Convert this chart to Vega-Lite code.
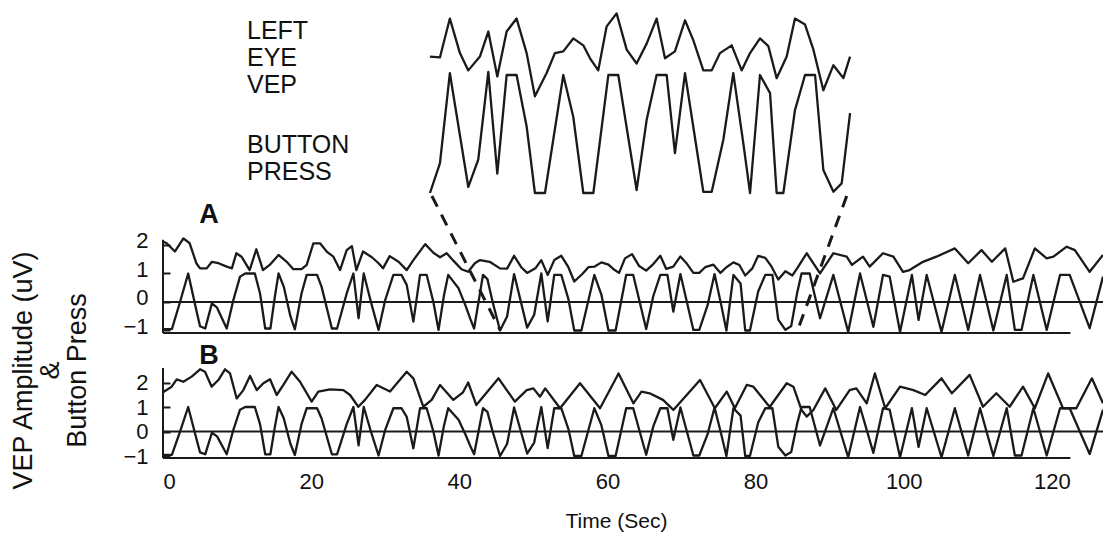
{
  "$schema": "https://vega.github.io/schema/vega-lite/v6.json",
  "width": 940,
  "height": 460,
  "autosize": {"type": "none"},
  "padding": {"left": 163, "top": 0, "right": 0, "bottom": 94},
  "background": "white",
  "config": {
    "view": {"stroke": null},
    "font": "Liberation Sans",
    "axis": {"grid": false, "labelColor": "#111", "titleColor": "#111", "labelFont": "Liberation Sans", "titleFont": "Liberation Sans"},
    "line": {"color": "#1a1a1a", "strokeWidth": 2.3, "strokeJoin": "round"},
    "rule": {"color": "#1a1a1a", "strokeWidth": 2}
  },
  "datasets": {
    "button": [
      {"t":0,"v":-0.95},{"t":1.2,"v":-0.95},{"t":2.3,"v":0.0},{"t":3.4,"v":1.0},{"t":4.6,"v":-0.4},{"t":5.0,"v":-0.85},{"t":5.7,"v":-0.93},{"t":6.6,"v":-0.05},{"t":7.3,"v":-0.2},{"t":8.6,"v":-0.93},{"t":9.5,"v":0.07},{"t":10.4,"v":0.89},{"t":11.1,"v":1.0},{"t":12.4,"v":1.0},{"t":13.1,"v":0.3},{"t":13.8,"v":-0.93},{"t":14.5,"v":-0.93},{"t":15.1,"v":0.19},{"t":15.6,"v":1.0},{"t":16.3,"v":0.54},{"t":17.2,"v":-0.5},{"t":17.8,"v":-0.96},{"t":18.7,"v":0.3},{"t":19.4,"v":0.95},{"t":20.8,"v":0.95},{"t":21.4,"v":0.54},{"t":22.8,"v":-0.93},{"t":23.5,"v":-0.93},{"t":24.8,"v":0.3},{"t":25.7,"v":1.0},{"t":26.4,"v":-0.57},{"t":27.1,"v":1.0},{"t":28.0,"v":0.07},{"t":29.1,"v":-0.98},{"t":30.0,"v":0.07},{"t":31.1,"v":0.95},{"t":32.2,"v":0.95},{"t":32.9,"v":0.6},{"t":33.8,"v":-0.69},{"t":34.7,"v":0.95},{"t":35.6,"v":0.95},{"t":36.5,"v":0.0},{"t":37.2,"v":-0.98},{"t":37.9,"v":0.19},{"t":38.5,"v":0.95},{"t":39.9,"v":0.48},{"t":40.8,"v":-0.1},{"t":41.5,"v":-0.6},{"t":42.0,"v":-0.93},{"t":43.2,"v":0.95},{"t":43.8,"v":0.8},{"t":44.5,"v":0.0},{"t":45.5,"v":-1.0},{"t":46.45,"v":-0.51},{"t":47.4,"v":0.98},{"t":49.16,"v":-0.9},{"t":50.11,"v":-0.45},{"t":51.07,"v":1.0},{"t":51.93,"v":-0.68},{"t":52.82,"v":0.95},{"t":53.77,"v":0.95},{"t":54.73,"v":0.1},{"t":55.52,"v":-1.0},{"t":56.48,"v":-1.0},{"t":58.23,"v":0.95},{"t":59.18,"v":0.26},{"t":60.14,"v":-1.0},{"t":61.1,"v":-1.0},{"t":62.53,"v":0.95},{"t":63.48,"v":0.95},{"t":65.23,"v":-0.95},{"t":66.19,"v":0.21},{"t":67.14,"v":0.95},{"t":68.1,"v":0.95},{"t":68.89,"v":-0.34},{"t":69.85,"v":0.98},{"t":71.6,"v":-0.98},{"t":72.4,"v":-0.98},{"t":73.51,"v":-0.12},{"t":74.46,"v":0.98},{"t":75.42,"v":-0.18},{"t":76.06,"v":-1.0},{"t":77.01,"v":0.95},{"t":77.97,"v":0.65},{"t":78.6,"v":-1.0},{"t":79.24,"v":-1.0},{"t":80.35,"v":0.37},{"t":81.31,"v":0.95},{"t":82.27,"v":0.95},{"t":83.06,"v":-0.62},{"t":84.02,"v":-0.98},{"t":84.81,"v":-0.84},{"t":85.61,"v":0.32},{"t":86.2,"v":1.0},{"t":87.3,"v":1.0},{"t":88.7,"v":-0.57},{"t":90.5,"v":0.95},{"t":92.5,"v":-1.05},{"t":94.1,"v":1.0},{"t":95.9,"v":-0.87},{"t":97.2,"v":0.95},{"t":98.1,"v":0.89},{"t":99.5,"v":-1.05},{"t":101.1,"v":0.95},{"t":102.0,"v":-0.63},{"t":103.1,"v":0.95},{"t":105.1,"v":-1.05},{"t":106.9,"v":0.95},{"t":108.7,"v":-0.98},{"t":110.3,"v":0.95},{"t":112.1,"v":-1.0},{"t":113.9,"v":0.95},{"t":115.0,"v":-0.98},{"t":115.9,"v":-0.98},{"t":117.5,"v":0.95},{"t":119.3,"v":-0.98},{"t":121.1,"v":0.95},{"t":122.4,"v":0.95},{"t":125.1,"v":-0.92},{"t":126.9,"v":0.89}
    ],
    "vepA": [
      {"t":0,"v":2.12},{"t":0.5,"v":2.06},{"t":1.6,"v":1.77},{"t":2.75,"v":2.23},{"t":3.6,"v":2.06},{"t":4.5,"v":1.36},{"t":5.0,"v":1.18},{"t":5.9,"v":1.18},{"t":6.6,"v":1.41},{"t":7.5,"v":1.36},{"t":8.6,"v":1.24},{"t":9.3,"v":1.18},{"t":9.9,"v":1.71},{"t":10.6,"v":1.59},{"t":11.7,"v":1.12},{"t":12.6,"v":1.85},{"t":13.5,"v":1.12},{"t":14.4,"v":1.3},{"t":15.6,"v":1.65},{"t":16.7,"v":1.41},{"t":17.6,"v":1.15},{"t":18.7,"v":1.15},{"t":19.4,"v":1.3},{"t":20.3,"v":2.06},{"t":21.2,"v":2.06},{"t":22.1,"v":1.77},{"t":23.0,"v":1.59},{"t":23.9,"v":1.12},{"t":24.8,"v":1.82},{"t":25.5,"v":1.96},{"t":26.1,"v":1.12},{"t":27.0,"v":1.77},{"t":28.2,"v":1.57},{"t":29.1,"v":1.36},{"t":29.7,"v":1.18},{"t":30.6,"v":1.61},{"t":31.8,"v":1.41},{"t":32.9,"v":1.12},{"t":33.8,"v":1.47},{"t":35.4,"v":2.03},{"t":36.5,"v":1.73},{"t":37.4,"v":1.57},{"t":38.3,"v":1.71},{"t":39.2,"v":1.45},{"t":40.3,"v":1.15},{"t":41.2,"v":1.06},{"t":42.1,"v":1.36},{"t":42.8,"v":1.47},{"t":44.1,"v":1.41},{"t":45.49,"v":1.18},{"t":46.45,"v":1.17},{"t":47.4,"v":1.62},{"t":48.36,"v":1.22},{"t":49.16,"v":1.02},{"t":50.27,"v":1.18},{"t":51.07,"v":1.47},{"t":51.93,"v":0.95},{"t":52.82,"v":1.47},{"t":53.77,"v":1.62},{"t":54.73,"v":1.22},{"t":55.52,"v":0.72},{"t":56.64,"v":0.99},{"t":57.43,"v":1.22},{"t":58.23,"v":1.24},{"t":59.18,"v":1.39},{"t":60.14,"v":1.31},{"t":60.78,"v":1.16},{"t":61.57,"v":1.02},{"t":62.37,"v":1.53},{"t":63.32,"v":1.68},{"t":64.28,"v":1.26},{"t":65.23,"v":1.1},{"t":66.19,"v":1.33},{"t":67.14,"v":1.62},{"t":67.94,"v":1.16},{"t":68.89,"v":1.24},{"t":69.85,"v":1.6},{"t":70.64,"v":1.37},{"t":71.6,"v":1.02},{"t":72.4,"v":1.02},{"t":73.19,"v":1.22},{"t":74.31,"v":1.31},{"t":75.26,"v":1.02},{"t":76.06,"v":1.22},{"t":77.01,"v":1.39},{"t":77.81,"v":1.3},{"t":78.6,"v":0.93},{"t":79.56,"v":1.18},{"t":80.35,"v":1.62},{"t":81.31,"v":1.55},{"t":82.11,"v":1.26},{"t":83.06,"v":0.79},{"t":84.02,"v":1.08},{"t":84.97,"v":0.93},{"t":85.61,"v":1.18},{"t":86.9,"v":1.71},{"t":88.7,"v":1.0},{"t":90.5,"v":1.71},{"t":92.3,"v":1.59},{"t":93.0,"v":1.3},{"t":94.5,"v":1.59},{"t":95.4,"v":1.24},{"t":97.2,"v":1.71},{"t":98.6,"v":1.59},{"t":99.9,"v":1.06},{"t":100.8,"v":1.12},{"t":102.6,"v":1.41},{"t":104.4,"v":1.59},{"t":106.9,"v":1.88},{"t":108.7,"v":1.36},{"t":110.5,"v":1.82},{"t":111.9,"v":1.41},{"t":113.7,"v":1.88},{"t":114.8,"v":0.71},{"t":116.1,"v":0.83},{"t":117.7,"v":1.88},{"t":119.3,"v":1.53},{"t":120.2,"v":1.59},{"t":122.0,"v":1.94},{"t":123.1,"v":1.82},{"t":125.1,"v":1.06},{"t":126.9,"v":1.65}
    ],
    "vepB": [
      {"t":0,"v":1.6},{"t":1.17,"v":1.83},{"t":1.85,"v":2.13},{"t":2.75,"v":2.03},{"t":3.87,"v":2.24},{"t":5.0,"v":2.54},{"t":5.67,"v":2.44},{"t":6.57,"v":1.83},{"t":7.47,"v":2.1},{"t":8.37,"v":2.54},{"t":9.05,"v":2.37},{"t":9.95,"v":1.35},{"t":10.85,"v":1.69},{"t":11.75,"v":2.27},{"t":12.65,"v":1.69},{"t":13.55,"v":1.97},{"t":14.45,"v":2.13},{"t":15.35,"v":1.49},{"t":16.25,"v":1.9},{"t":17.37,"v":2.44},{"t":18.5,"v":2.03},{"t":20.07,"v":1.22},{"t":20.97,"v":1.63},{"t":22.55,"v":1.72},{"t":24.35,"v":1.69},{"t":25.25,"v":1.49},{"t":26.37,"v":1.01},{"t":27.27,"v":1.29},{"t":28.85,"v":1.9},{"t":30.65,"v":1.63},{"t":32.9,"v":2.44},{"t":33.8,"v":2.17},{"t":35.15,"v":1.01},{"t":36.27,"v":1.29},{"t":37.4,"v":1.9},{"t":39.2,"v":1.29},{"t":40.5,"v":1.6},{"t":41.2,"v":2.0},{"t":42.3,"v":1.08},{"t":45.3,"v":2.17},{"t":47.5,"v":1.22},{"t":49.1,"v":1.69},{"t":50.0,"v":1.76},{"t":50.9,"v":1.42},{"t":51.6,"v":1.76},{"t":53.6,"v":0.95},{"t":56.3,"v":1.97},{"t":59.0,"v":0.95},{"t":61.5,"v":2.37},{"t":63.5,"v":1.15},{"t":64.6,"v":1.63},{"t":65.7,"v":1.56},{"t":67.5,"v":1.29},{"t":68.9,"v":0.88},{"t":72.5,"v":2.1},{"t":74.5,"v":0.95},{"t":76.1,"v":1.63},{"t":77.2,"v":0.95},{"t":78.8,"v":1.9},{"t":79.7,"v":1.83},{"t":81.9,"v":1.0},{"t":84.2,"v":1.97},{"t":85.1,"v":1.83},{"t":86.2,"v":0.88},{"t":86.9,"v":0.61},{"t":87.8,"v":0.88},{"t":89.4,"v":1.76},{"t":90.9,"v":0.88},{"t":92.7,"v":1.69},{"t":93.6,"v":1.76},{"t":95.0,"v":1.15},{"t":96.1,"v":2.37},{"t":97.5,"v":0.95},{"t":99.5,"v":1.83},{"t":101.3,"v":1.69},{"t":102.9,"v":1.49},{"t":105.1,"v":2.17},{"t":106.5,"v":1.56},{"t":108.9,"v":2.31},{"t":110.7,"v":1.01},{"t":112.5,"v":1.56},{"t":114.3,"v":1.01},{"t":116.1,"v":1.83},{"t":117.7,"v":0.95},{"t":119.5,"v":2.37},{"t":121.5,"v":0.95},{"t":123.3,"v":0.95},{"t":125.4,"v":2.17},{"t":126.9,"v":1.15}
    ],
    "connectors": [
      {"t": 36.3, "v": 3.72, "t2": 45.5, "v2": -0.98},
      {"t": 92.3, "v": 3.72, "t2": 85.6, "v2": -1.05}
    ]
  },
  "layer": [
    {
      "layer": [
        {
          "data": {"name": "vepA"},
          "mark": "line",
          "encoding": {
            "x": {"field": "t", "type": "quantitative", "scale": {"domain": [0, 126.9], "nice": false, "zero": false}, "axis": null},
            "y": {"field": "v", "type": "quantitative", "scale": {"domain": [-5.544, 10.596], "nice": false, "zero": false},
              "axis": {"orient": "left", "values": [-1, 0, 1, 2], "domain": false, "ticks": true, "tickSize": -7, "tickWidth": 2, "tickColor": "#1a1a1a", "labelFontSize": 22, "labelPadding": 22, "labelOffset": -4,
                "title": ["VEP Amplitude (uV)", "&", "Button Press"], "titleFontSize": 27, "titleFontWeight": "normal", "titleLineHeight": 27, "titleAngle": 270, "titleAlign": "center", "titleBaseline": "alphabetic", "titleX": -132, "titleY": 370}}
          }
        },
        {
          "data": {"name": "button"},
          "mark": "line",
          "encoding": {
            "x": {"field": "t", "type": "quantitative"},
            "y": {"field": "v", "type": "quantitative"}
          }
        },
        {
          "data": {"values": [{}]},
          "mark": "rule",
          "encoding": {"y": {"datum": 0}}
        },
        {
          "data": {"values": [{}]},
          "mark": "rule",
          "encoding": {"x": {"datum": 0}, "x2": {"datum": 122.5}, "y": {"datum": -1.09}}
        },
        {
          "data": {"values": [{}]},
          "mark": "rule",
          "encoding": {"x": {"datum": 0}, "y": {"datum": 2.18}, "y2": {"datum": -1.09}}
        },
        {
          "data": {"name": "connectors"},
          "mark": {"type": "rule", "strokeDash": [12, 9], "strokeWidth": 3},
          "encoding": {
            "x": {"field": "t", "type": "quantitative"},
            "x2": {"field": "t2"},
            "y": {"field": "v", "type": "quantitative"},
            "y2": {"field": "v2"}
          }
        },
        {
          "data": {"values": [{}]},
          "mark": {"type": "text", "text": "A", "fontSize": 27, "fontWeight": "bold", "align": "center", "baseline": "middle", "color": "#111"},
          "encoding": {"x": {"datum": 6.2}, "y": {"datum": 3.05}}
        }
      ]
    },
    {
      "layer": [
        {
          "data": {"name": "vepB"},
          "mark": "line",
          "encoding": {
            "x": {"field": "t", "type": "quantitative", "scale": {"domain": [0, 126.9], "nice": false, "zero": false},
              "axis": {"orient": "bottom", "values": [0, 20, 40, 60, 80, 100, 120], "domain": false, "ticks": false, "labelFontSize": 22, "labelPadding": 11,
                "title": "Time (Sec)", "titleFontSize": 21, "titleFontWeight": "normal", "titleX": 453, "titleY": 67, "titleBaseline": "alphabetic", "titleAlign": "center"}},
            "y": {"field": "v", "type": "quantitative", "scale": {"domain": [-1.163, 17.612], "nice": false, "zero": false},
              "axis": {"orient": "left", "values": [-1, 0, 1, 2], "domain": false, "ticks": true, "tickSize": -7, "tickWidth": 2, "tickColor": "#1a1a1a", "labelFontSize": 22, "labelPadding": 22, "title": null}}
          }
        },
        {
          "data": {"name": "button"},
          "mark": "line",
          "encoding": {
            "x": {"field": "t", "type": "quantitative"},
            "y": {"field": "v", "type": "quantitative"}
          }
        },
        {
          "data": {"values": [{}]},
          "mark": "rule",
          "encoding": {"y": {"datum": 0}}
        },
        {
          "data": {"values": [{}]},
          "mark": "rule",
          "encoding": {"x": {"datum": 0}, "x2": {"datum": 122.5}, "y": {"datum": -1.08}}
        },
        {
          "data": {"values": [{}]},
          "mark": "rule",
          "encoding": {"x": {"datum": 0}, "y": {"datum": 2.59}, "y2": {"datum": -1.08}}
        },
        {
          "data": {"values": [{}]},
          "mark": {"type": "text", "text": "B", "fontSize": 27, "fontWeight": "bold", "align": "center", "baseline": "middle", "color": "#111"},
          "encoding": {"x": {"datum": 6.2}, "y": {"datum": 3.08}}
        }
      ]
    },
    {
      "layer": [
        {
          "data": {"name": "button"},
          "transform": [{"filter": "datum.t >= 45.4 && datum.t <= 85.7"}],
          "mark": "line",
          "encoding": {
            "x": {"field": "t", "type": "quantitative", "scale": {"domain": [20.01, 109.76], "nice": false, "zero": false}, "axis": null},
            "y": {"field": "v", "type": "quantitative", "scale": {"domain": [-5.413, 2.19], "nice": false, "zero": false}, "axis": null}
          }
        },
        {
          "data": {"values": [{}]},
          "mark": {"type": "text", "text": ["BUTTON", "PRESS"], "fontSize": 25, "lineHeight": 27, "align": "left", "baseline": "alphabetic", "color": "#111"},
          "encoding": {"x": {"datum": 28.03}, "y": {"datum": -0.339}}
        }
      ]
    },
    {
      "layer": [
        {
          "data": {"name": "vepA"},
          "transform": [{"filter": "datum.t >= 45.4 && datum.t <= 85.7"}],
          "mark": "line",
          "encoding": {
            "x": {"field": "t", "type": "quantitative", "scale": {"domain": [20.01, 109.76], "nice": false, "zero": false}, "axis": null},
            "y": {"field": "v", "type": "quantitative", "scale": {"domain": [-3.492, 1.835], "nice": false, "zero": false}, "axis": null}
          }
        },
        {
          "data": {"values": [{}]},
          "mark": {"type": "text", "text": ["LEFT", "EYE", "VEP"], "fontSize": 25, "lineHeight": 27, "align": "left", "baseline": "alphabetic", "color": "#111"},
          "encoding": {"x": {"datum": 28.03}, "y": {"datum": 1.383}}
        }
      ]
    }
  ],
  "resolve": {"scale": {"x": "independent", "y": "independent"}}
}
